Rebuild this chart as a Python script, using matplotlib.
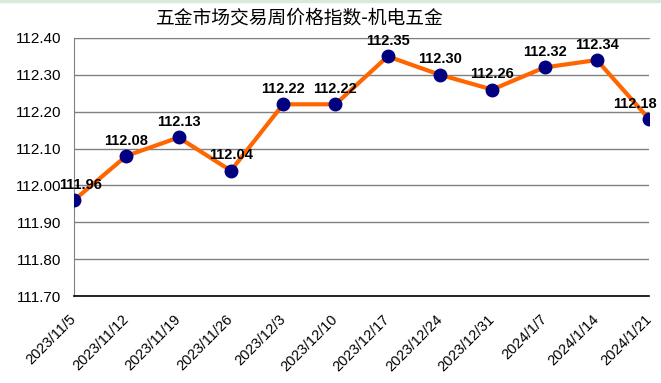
import matplotlib
matplotlib.use('Agg')
import matplotlib.pyplot as plt
from matplotlib.patches import Rectangle

plt.rcParams['font.family'] = ['Liberation Sans', 'Noto Sans CJK SC', 'DejaVu Sans']

# 数据
dates = ['2023/11/5', '2023/11/12', '2023/11/19', '2023/11/26', '2023/12/3',
         '2023/12/10', '2023/12/17', '2023/12/24', '2023/12/31', '2024/1/7',
         '2024/1/14', '2024/1/21']
values = [111.96, 112.08, 112.13, 112.04, 112.22, 112.22, 112.35, 112.30,
          112.26, 112.32, 112.34, 112.18]
y_ticks = [111.70, 111.80, 111.90, 112.00, 112.10, 112.20, 112.30, 112.40]
title = '五金市场交易周价格指数-机电五金'

fig = plt.figure(figsize=(6.61, 3.83), dpi=100, facecolor='white')
ax = fig.add_axes([0.112, 0.227, 0.870, 0.674])

x = list(range(len(dates)))
ax.plot(x, values, color='#FF6600', linewidth=3, zorder=3,
        marker='o', markersize=9, markerfacecolor='#000080',
        markeredgecolor='#000080')

# 数据标签（首尾标签向内偏移，避免超出边界）
for xi, v in zip(x, values):
    dx = 0
    if xi == 0:
        dx = 5
    elif xi == len(x) - 1:
        dx = -10
    ax.annotate(f'{v:.2f}', (xi, v), xytext=(dx, 6), textcoords='offset points',
                ha='center', va='bottom', fontsize=10.5, fontweight='bold',
                color='black', zorder=4, annotation_clip=False)

ax.set_xlim(0, len(dates) - 1)
ax.set_ylim(y_ticks[0], y_ticks[-1])
ax.set_yticks(y_ticks)
ax.set_yticklabels([f'{t:.2f}' for t in y_ticks])
ax.set_xticks(x)
ax.set_xticklabels(dates, rotation=45, ha='right', va='center',
                   rotation_mode='anchor')

ax.tick_params(axis='y', length=0, pad=9, labelsize=11)
ax.tick_params(axis='x', length=0, pad=15, labelsize=10.5)

ax.grid(True, axis='y', color='#808080', linewidth=1)
ax.set_axisbelow(True)

ax.spines['right'].set_visible(False)
ax.spines['top'].set_color('#808080')
ax.spines['left'].set_color('#808080')
ax.spines['bottom'].set_color('black')
ax.spines['bottom'].set_linewidth(1.2)

fig.text(0.454, 0.952, title, ha='center', va='center', fontsize=13.5,
         family=['Noto Sans CJK SC', 'DejaVu Sans'])

# 顶部浅绿色条
fig.patches.append(Rectangle((0, 0.994), 1, 0.006, transform=fig.transFigure,
                             color='#d8ebd8', zorder=0))

fig.savefig('out.png', dpi=100)
